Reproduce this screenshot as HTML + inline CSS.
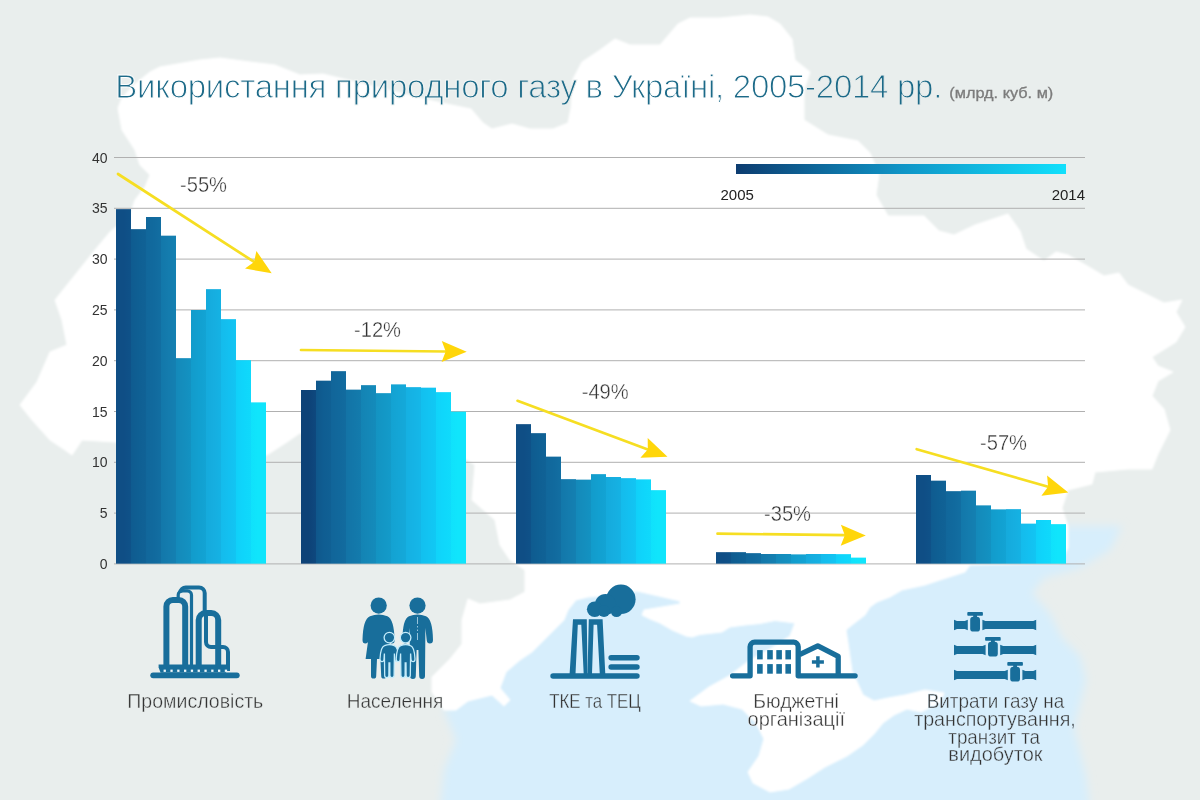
<!DOCTYPE html>
<html lang="uk"><head><meta charset="utf-8"><title>Використання природного газу в Україні</title>
<style>
html,body{margin:0;padding:0;background:#e9eeed;}
body{width:1200px;height:800px;overflow:hidden;font-family:"Liberation Sans",sans-serif;}
svg{display:block;font-family:"Liberation Sans",sans-serif;}
</style></head><body>
<svg width="1200" height="800" viewBox="0 0 1200 800">
<defs>
<linearGradient id="lg" x1="0" x2="1" y1="0" y2="0"><stop offset="0" stop-color="#0d3c70"/><stop offset="0.5" stop-color="#0f94c6"/><stop offset="1" stop-color="#12e0fc"/></linearGradient>
<filter id="soft2" x="-5%" y="-5%" width="110%" height="115%"><feGaussianBlur stdDeviation="4"/></filter>
<filter id="soft" x="-5%" y="-5%" width="110%" height="115%"><feGaussianBlur stdDeviation="1.1"/></filter>
</defs>
<rect width="1200" height="800" fill="#e9eeed"/>
<polygon fill="#d7eefc" points="444,710 456,740 444,770 441,800 441,840 1089,840 1089,800 1086,776 1080,752 1074,728 1080,704 1086,680 1080,656 1062,638 1050,614 1032,593 1044,578 1080,568 1110,550 1122,526 1060,526 1000,540 700,560 560,590 500,640" filter="url(#soft2)"/>
<polygon fill="#ffffff" stroke="#ffffff" stroke-width="1" stroke-linejoin="round" points="118,108 122,98 135,84 150,72 160,67 200,60 220,58 250,62 275,65 300,75 323,74 380,88 420,98 442,103 471,109 483,123 492,129 512,124 530,129 553,129 568,123 571,108 573,79 582,62 600,50 615,39 630,45 660,45 678,24 690,18 720,18 750,15 768,17 780,24 792,39 795,60 810,72 804,90 804,120 828,135 858,141 870,153 879,174 876,195 888,216 924,216 939,231 954,235 975,225 1008,214 1020,231 1026,249 1044,261 1056,252 1068,255 1089,267 1104,276 1119,273 1128,285 1146,294 1164,303 1182,300 1176,312 1185,327 1176,342 1152,357 1158,366 1173,372 1158,381 1152,396 1164,409 1170,430 1158,454 1152,469 1128,469 1095,472 1092,484 1068,490 1062,508 1068,526 1068,548 1060,563 1010,564 970,565 965,572 940,580 925,585 902,590 890,597 877,602 870,607 865,615 852,625 846,630 848,643 850,657 852,671 858,684 863,695 874,701 888,698 905,695 925,690 944,693 940,703 921,712 907,709 894,715 883,723 874,734 863,745 847,756 825,767 808,778 789,789 770,792 753,783 748,772 759,756 764,739 756,723 742,709 723,704 701,706 690,701 709,687 729,676 750,660 770,649 790,636 795,623 775,620.5 760,623.5 745,625 730,627 722,632 700,634.5 692,637 686,636 672,630 660,623 650,619 642,615 644,610 680,604 680,601 637,591 618,593 600,596 588,597 576,600 568,610 564,620 556,628 544,640 532,652 520,660 506,672 500,688 510,700 504,706 492,695 468,701 456,710 444,710 432,692 432,677 450,659 462,644 462,620 468,599 480,604 510,600 525,592 525,570 510,560 500,545 495,520 472,500 475,465 466,459 300,433 287,442 267,455 115,442 82,440 72,455 65,450 50,440 32,420 20,405 37,382 50,352 67,345 62,320 55,300 75,275 95,250 110,232 130,215 135,200 145,187 150,175 140,165 135,150 122,130" filter="url(#soft)"/>

<g stroke="#b0b0b0" stroke-width="1">
<line x1="114" x2="1085" y1="157.5" y2="157.5"/>
<line x1="114" x2="1085" y1="208.3" y2="208.3"/>
<line x1="114" x2="1085" y1="259.1" y2="259.1"/>
<line x1="114" x2="1085" y1="309.9" y2="309.9"/>
<line x1="114" x2="1085" y1="360.7" y2="360.7"/>
<line x1="114" x2="1085" y1="411.5" y2="411.5"/>
<line x1="114" x2="1085" y1="462.3" y2="462.3"/>
<line x1="114" x2="1085" y1="513.1" y2="513.1"/>
<line x1="114" x2="1085" y1="563.9" y2="563.9"/>
</g>
<g font-size="14" fill="#333" text-anchor="end">
<text x="107.5" y="162.5">40</text>
<text x="107.5" y="213.3">35</text>
<text x="107.5" y="264.1">30</text>
<text x="107.5" y="314.9">25</text>
<text x="107.5" y="365.7">20</text>
<text x="107.5" y="416.5">15</text>
<text x="107.5" y="467.3">10</text>
<text x="107.5" y="518.1">5</text>
<text x="107.5" y="568.9">0</text>
</g>
<defs><linearGradient id="g0" gradientUnits="userSpaceOnUse" x1="116" x2="266" y1="0" y2="0"><stop offset="0.050" stop-color="#0f4e85"/><stop offset="0.150" stop-color="#0f5f93"/><stop offset="0.250" stop-color="#116a9e"/><stop offset="0.350" stop-color="#147cae"/><stop offset="0.450" stop-color="#148ebd"/><stop offset="0.550" stop-color="#12a0d0"/><stop offset="0.650" stop-color="#16aee0"/><stop offset="0.750" stop-color="#13c0f0"/><stop offset="0.850" stop-color="#0fd5fb"/><stop offset="0.950" stop-color="#10e5fc"/></linearGradient><linearGradient id="g1" gradientUnits="userSpaceOnUse" x1="301" x2="466" y1="0" y2="0"><stop offset="0.045" stop-color="#0d4277"/><stop offset="0.136" stop-color="#0f5d92"/><stop offset="0.227" stop-color="#11689c"/><stop offset="0.318" stop-color="#1377a9"/><stop offset="0.409" stop-color="#1487b7"/><stop offset="0.500" stop-color="#1397c6"/><stop offset="0.591" stop-color="#14a6d6"/><stop offset="0.682" stop-color="#15b3e5"/><stop offset="0.773" stop-color="#12c4f2"/><stop offset="0.864" stop-color="#0fd7fb"/><stop offset="0.955" stop-color="#10e5fc"/></linearGradient><linearGradient id="g2" gradientUnits="userSpaceOnUse" x1="516" x2="666" y1="0" y2="0"><stop offset="0.050" stop-color="#0f4e85"/><stop offset="0.150" stop-color="#0f5f93"/><stop offset="0.250" stop-color="#116a9e"/><stop offset="0.350" stop-color="#147cae"/><stop offset="0.450" stop-color="#148ebd"/><stop offset="0.550" stop-color="#12a0d0"/><stop offset="0.650" stop-color="#16aee0"/><stop offset="0.750" stop-color="#13c0f0"/><stop offset="0.850" stop-color="#0fd5fb"/><stop offset="0.950" stop-color="#10e5fc"/></linearGradient><linearGradient id="g3" gradientUnits="userSpaceOnUse" x1="716" x2="866" y1="0" y2="0"><stop offset="0.050" stop-color="#0f4e85"/><stop offset="0.150" stop-color="#0f5f93"/><stop offset="0.250" stop-color="#116a9e"/><stop offset="0.350" stop-color="#147cae"/><stop offset="0.450" stop-color="#148ebd"/><stop offset="0.550" stop-color="#12a0d0"/><stop offset="0.650" stop-color="#16aee0"/><stop offset="0.750" stop-color="#13c0f0"/><stop offset="0.850" stop-color="#0fd5fb"/><stop offset="0.950" stop-color="#10e5fc"/></linearGradient><linearGradient id="g4" gradientUnits="userSpaceOnUse" x1="916" x2="1066" y1="0" y2="0"><stop offset="0.050" stop-color="#0f4e85"/><stop offset="0.150" stop-color="#0f5f93"/><stop offset="0.250" stop-color="#116a9e"/><stop offset="0.350" stop-color="#147cae"/><stop offset="0.450" stop-color="#148ebd"/><stop offset="0.550" stop-color="#12a0d0"/><stop offset="0.650" stop-color="#16aee0"/><stop offset="0.750" stop-color="#13c0f0"/><stop offset="0.850" stop-color="#0fd5fb"/><stop offset="0.950" stop-color="#10e5fc"/></linearGradient></defs>
<path d="M116,563.6 V209.2 H131 V229.2 H146 V217.0 H161 V235.8 H176 V358.3 H191 V310.0 H206 V289.2 H221 V319.2 H236 V360.3 H251 V402.5 H266 V563.6 Z" fill="url(#g0)"/>
<rect x="116" y="209.2" width="15" height="354.4" fill="#0f4e85" fill-opacity="0.5"/>
<rect x="131" y="229.2" width="15" height="334.4" fill="#0f5f93" fill-opacity="0.5"/>
<rect x="146" y="217.0" width="15" height="346.6" fill="#116a9e" fill-opacity="0.5"/>
<rect x="161" y="235.8" width="15" height="327.8" fill="#147cae" fill-opacity="0.5"/>
<rect x="176" y="358.3" width="15" height="205.3" fill="#148ebd" fill-opacity="0.5"/>
<rect x="191" y="310.0" width="15" height="253.6" fill="#12a0d0" fill-opacity="0.5"/>
<rect x="206" y="289.2" width="15" height="274.4" fill="#16aee0" fill-opacity="0.5"/>
<rect x="221" y="319.2" width="15" height="244.4" fill="#13c0f0" fill-opacity="0.5"/>
<rect x="236" y="360.3" width="15" height="203.3" fill="#0fd5fb" fill-opacity="0.5"/>
<rect x="251" y="402.5" width="15" height="161.1" fill="#10e5fc" fill-opacity="0.5"/>
<path d="M301,563.6 V390.0 H316 V380.8 H331 V371.3 H346 V389.7 H361 V385.3 H376 V393.3 H391 V384.5 H406 V387.2 H421 V387.8 H436 V392.3 H451 V411.7 H466 V563.6 Z" fill="url(#g1)"/>
<rect x="301" y="390.0" width="15" height="173.6" fill="#0d4277" fill-opacity="0.5"/>
<rect x="316" y="380.8" width="15" height="182.8" fill="#0f5d92" fill-opacity="0.5"/>
<rect x="331" y="371.3" width="15" height="192.3" fill="#11689c" fill-opacity="0.5"/>
<rect x="346" y="389.7" width="15" height="173.9" fill="#1377a9" fill-opacity="0.5"/>
<rect x="361" y="385.3" width="15" height="178.3" fill="#1487b7" fill-opacity="0.5"/>
<rect x="376" y="393.3" width="15" height="170.3" fill="#1397c6" fill-opacity="0.5"/>
<rect x="391" y="384.5" width="15" height="179.1" fill="#14a6d6" fill-opacity="0.5"/>
<rect x="406" y="387.2" width="15" height="176.4" fill="#15b3e5" fill-opacity="0.5"/>
<rect x="421" y="387.8" width="15" height="175.8" fill="#12c4f2" fill-opacity="0.5"/>
<rect x="436" y="392.3" width="15" height="171.3" fill="#0fd7fb" fill-opacity="0.5"/>
<rect x="451" y="411.7" width="15" height="151.9" fill="#10e5fc" fill-opacity="0.5"/>
<path d="M516,563.6 V424.2 H531 V433.3 H546 V456.7 H561 V479.2 H576 V479.7 H591 V474.2 H606 V477.0 H621 V478.3 H636 V479.5 H651 V490.3 H666 V563.6 Z" fill="url(#g2)"/>
<rect x="516" y="424.2" width="15" height="139.4" fill="#0f4e85" fill-opacity="0.5"/>
<rect x="531" y="433.3" width="15" height="130.3" fill="#0f5f93" fill-opacity="0.5"/>
<rect x="546" y="456.7" width="15" height="106.9" fill="#116a9e" fill-opacity="0.5"/>
<rect x="561" y="479.2" width="15" height="84.4" fill="#147cae" fill-opacity="0.5"/>
<rect x="576" y="479.7" width="15" height="83.9" fill="#148ebd" fill-opacity="0.5"/>
<rect x="591" y="474.2" width="15" height="89.4" fill="#12a0d0" fill-opacity="0.5"/>
<rect x="606" y="477.0" width="15" height="86.6" fill="#16aee0" fill-opacity="0.5"/>
<rect x="621" y="478.3" width="15" height="85.3" fill="#13c0f0" fill-opacity="0.5"/>
<rect x="636" y="479.5" width="15" height="84.1" fill="#0fd5fb" fill-opacity="0.5"/>
<rect x="651" y="490.3" width="15" height="73.3" fill="#10e5fc" fill-opacity="0.5"/>
<path d="M716,563.6 V552.3 H731 V552.3 H746 V553.2 H761 V554.0 H776 V554.0 H791 V554.5 H806 V554.0 H821 V554.0 H836 V554.2 H851 V557.7 H866 V563.6 Z" fill="url(#g3)"/>
<rect x="716" y="552.3" width="15" height="11.3" fill="#0f4e85" fill-opacity="0.5"/>
<rect x="731" y="552.3" width="15" height="11.3" fill="#0f5f93" fill-opacity="0.5"/>
<rect x="746" y="553.2" width="15" height="10.4" fill="#116a9e" fill-opacity="0.5"/>
<rect x="761" y="554.0" width="15" height="9.6" fill="#147cae" fill-opacity="0.5"/>
<rect x="776" y="554.0" width="15" height="9.6" fill="#148ebd" fill-opacity="0.5"/>
<rect x="791" y="554.5" width="15" height="9.1" fill="#12a0d0" fill-opacity="0.5"/>
<rect x="806" y="554.0" width="15" height="9.6" fill="#16aee0" fill-opacity="0.5"/>
<rect x="821" y="554.0" width="15" height="9.6" fill="#13c0f0" fill-opacity="0.5"/>
<rect x="836" y="554.2" width="15" height="9.4" fill="#0fd5fb" fill-opacity="0.5"/>
<rect x="851" y="557.7" width="15" height="5.9" fill="#10e5fc" fill-opacity="0.5"/>
<path d="M916,563.6 V475.0 H931 V480.8 H946 V491.3 H961 V490.8 H976 V505.5 H991 V509.5 H1006 V509.2 H1021 V523.7 H1036 V520.0 H1051 V524.2 H1066 V563.6 Z" fill="url(#g4)"/>
<rect x="916" y="475.0" width="15" height="88.6" fill="#0f4e85" fill-opacity="0.5"/>
<rect x="931" y="480.8" width="15" height="82.8" fill="#0f5f93" fill-opacity="0.5"/>
<rect x="946" y="491.3" width="15" height="72.3" fill="#116a9e" fill-opacity="0.5"/>
<rect x="961" y="490.8" width="15" height="72.8" fill="#147cae" fill-opacity="0.5"/>
<rect x="976" y="505.5" width="15" height="58.1" fill="#148ebd" fill-opacity="0.5"/>
<rect x="991" y="509.5" width="15" height="54.1" fill="#12a0d0" fill-opacity="0.5"/>
<rect x="1006" y="509.2" width="15" height="54.4" fill="#16aee0" fill-opacity="0.5"/>
<rect x="1021" y="523.7" width="15" height="39.9" fill="#13c0f0" fill-opacity="0.5"/>
<rect x="1036" y="520.0" width="15" height="43.6" fill="#0fd5fb" fill-opacity="0.5"/>
<rect x="1051" y="524.2" width="15" height="39.4" fill="#10e5fc" fill-opacity="0.5"/>
<rect x="736" y="164" width="330" height="10" fill="url(#lg)"/>
<g font-size="15" fill="#222"><text x="720.5" y="200">2005</text><text x="1085" y="200" text-anchor="end">2014</text></g>
<line x1="118.0" y1="174.0" x2="254.1" y2="261.9" stroke="#f6de22" stroke-width="2.7" stroke-linecap="round"/><polygon fill="#ffd60a" points="271.7,273.3 245.0,268.6 254.1,261.9 256.4,250.9"/>
<line x1="301.0" y1="350.0" x2="445.7" y2="351.5" stroke="#f6de22" stroke-width="2.7" stroke-linecap="round"/><polygon fill="#ffd60a" points="466.7,351.7 441.6,361.9 445.7,351.5 441.8,340.9"/>
<line x1="517.5" y1="400.8" x2="647.8" y2="449.4" stroke="#f6de22" stroke-width="2.7" stroke-linecap="round"/><polygon fill="#ffd60a" points="667.5,456.7 640.4,457.8 647.8,449.4 647.7,438.1"/>
<line x1="717.5" y1="533.7" x2="844.8" y2="535.2" stroke="#f6de22" stroke-width="2.7" stroke-linecap="round"/><polygon fill="#ffd60a" points="865.8,535.5 840.7,545.7 844.8,535.2 840.9,524.7"/>
<line x1="916.7" y1="449.2" x2="1048.1" y2="486.7" stroke="#f6de22" stroke-width="2.7" stroke-linecap="round"/><polygon fill="#ffd60a" points="1068.3,492.5 1041.4,495.7 1048.1,486.7 1047.1,475.5"/>
<g font-size="22" fill="#333333" stroke="#ffffff" stroke-width="0.4">
<text x="180" y="191.7" textLength="47" lengthAdjust="spacingAndGlyphs">-55%</text>
<text x="354" y="336.7" textLength="47" lengthAdjust="spacingAndGlyphs">-12%</text>
<text x="581.7" y="399.2" textLength="47" lengthAdjust="spacingAndGlyphs">-49%</text>
<text x="764" y="520.5" textLength="47" lengthAdjust="spacingAndGlyphs">-35%</text>
<text x="980" y="449.7" textLength="47" lengthAdjust="spacingAndGlyphs">-57%</text>
</g>
<text x="115.3" y="98.3" font-size="33" fill="#1c6a88" stroke-width="1.0" stroke="#ffffff" textLength="827" lengthAdjust="spacing">Використання <tspan stroke="#f3f6f5">природного</tspan> <tspan stroke="#e9eeed">газу</tspan> в Україні, 2005<tspan stroke="#e9eeed">-2014 рр.</tspan></text>
<text x="949.3" y="98.3" font-size="14" fill="#7c7c7c" stroke="#7c7c7c" stroke-width="0.3" textLength="104" lengthAdjust="spacingAndGlyphs">(млрд. куб. м)</text>
<g font-size="20.8" fill="#333333" stroke-width="0.4">
<text x="127.3" y="708.3" stroke="#e9eeed" textLength="136.0" lengthAdjust="spacingAndGlyphs">Промисловість</text>
<text x="346.7" y="708.3" stroke="#e9eeed" textLength="96.6" lengthAdjust="spacingAndGlyphs">Населення</text>
<text x="549.2" y="707.5" stroke="#d7eefc" textLength="91.6" lengthAdjust="spacingAndGlyphs">ТКЕ та ТЕЦ</text>
<text x="753.3" y="707.5" stroke="#ffffff" textLength="85.5" lengthAdjust="spacingAndGlyphs">Бюджетні</text>
<text x="747.6" y="726.2" stroke="#ffffff" textLength="97.4" lengthAdjust="spacingAndGlyphs">організації</text>
<text x="926.7" y="707.5" stroke="#d7eefc" textLength="137.5" lengthAdjust="spacingAndGlyphs">Витрати газу на</text>
<text x="914.2" y="725.8" stroke="#d7eefc" textLength="161.6" lengthAdjust="spacingAndGlyphs">транспортування,</text>
<text x="948.3" y="744.2" stroke="#d7eefc" textLength="91.7" lengthAdjust="spacingAndGlyphs">транзит та</text>
<text x="948.3" y="761.0" stroke="#d7eefc" textLength="94.2" lengthAdjust="spacingAndGlyphs">видобуток</text>
</g>
<g id="ic1" fill="none" stroke="#186e9b" stroke-linecap="round" stroke-linejoin="round">
<rect x="150.3" y="672.4" width="89.4" height="5.8" rx="2.9" fill="#186e9b" stroke="none"/>
<path d="M158.6,664.4 H227.3 V667.4 L226,672.8 H160.6 L158.6,667.4 Z" fill="#186e9b" stroke="none"/>
<path d="M166.4,665 V606.5 a6.5,6.5 0 0 1 6.5,-6.5 h5.8 a6.5,6.5 0 0 1 6.5,6.5 V665" stroke-width="6" stroke-linecap="butt"/>
<path d="M198.7,665 V620 a7,7 0 0 1 7,-7 h5.5 a7,7 0 0 1 7,7 V665" stroke-width="6" stroke-linecap="butt"/>
<path d="M178.2,598 V595 a4.2,4.2 0 0 1 4.2,-4.2 h4.9 a4.2,4.2 0 0 1 4.2,4.2 V665" stroke-width="3.2" stroke-linecap="butt"/>
<path d="M180.2,592.5 a5.6,5.6 0 0 1 5.6,-5.1 H199 a5.7,5.7 0 0 1 5.7,5.7 V611" stroke-width="4" stroke-linecap="butt"/>
<path d="M206,616 V642 a5,5 0 0 0 5,5 H223 a5,5 0 0 1 5,5 V671" stroke-width="4" stroke-linecap="butt"/>
<rect x="163.6" y="669.6" width="2.3" height="2.3" fill="#eef5f9" stroke="none"/>
<rect x="170.4" y="669.6" width="2.3" height="2.3" fill="#eef5f9" stroke="none"/>
<rect x="177.2" y="669.6" width="2.3" height="2.3" fill="#eef5f9" stroke="none"/>
<rect x="184.0" y="669.6" width="2.3" height="2.3" fill="#eef5f9" stroke="none"/>
<rect x="190.8" y="669.6" width="2.3" height="2.3" fill="#eef5f9" stroke="none"/>
<rect x="197.6" y="669.6" width="2.3" height="2.3" fill="#eef5f9" stroke="none"/>
<rect x="204.4" y="669.6" width="2.3" height="2.3" fill="#eef5f9" stroke="none"/>
<rect x="211.2" y="669.6" width="2.3" height="2.3" fill="#eef5f9" stroke="none"/>
<rect x="218.0" y="669.6" width="2.3" height="2.3" fill="#eef5f9" stroke="none"/>
<rect x="224.8" y="669.6" width="2.3" height="2.3" fill="#eef5f9" stroke="none"/>
</g>
<g id="ic2" fill="#186e9b">
<circle cx="378.7" cy="605.6" r="8.1"/><circle cx="417.5" cy="605.6" r="8.1"/>
<path d="M370,616.2 Q363,619 362.5,640 Q362.5,643.5 365.4,643.5 Q368,643.5 368.4,640 L369.6,630 L365.6,659 H371 V676 a2.6,2.6 0 0 0 5.2,0 L377,659 h3.4 L381.2,676 a2.6,2.6 0 0 0 5.2,0 V659 H391.8 L387.8,630 L389,640 Q389.4,643.5 392,643.5 Q394.8,643.5 394.6,640 Q394,619 387.4,616.2 Q378.7,612.6 370,616.2 Z"/>
<path d="M409,616.2 Q402.5,619 402.5,640 Q402.5,643.5 405.3,643.5 Q408,643.5 408.3,640 L409.6,628 L410,676 a2.9,2.9 0 0 0 5.8,0 L416.6,650 h1.8 L419.2,676 a2.9,2.9 0 0 0 5.8,0 L425.4,628 L426.7,640 Q427,643.5 429.8,643.5 Q433,643.5 433,640 Q432.6,619 426,616.2 Q417.5,612.6 409,616.2 Z"/>
<path d="M417.5,617 V640" stroke="#b9d9ea" stroke-width="0.8" stroke-dasharray="7 2 1.5 2 1.5 2" fill="none"/>
<g stroke="#c4ecfb" stroke-width="1.3"><circle cx="389.4" cy="637.6" r="5.3"/><path d="M384.5,645.6 Q380.5,647 380.0,659 Q380.0,661.6 382.0,661.6 Q383.8,661.6 384.0,659.5 L384.4,653.5 L384.7,675.5 a2.1,2.1 0 0 0 4.2,0 L389.0,663 h0.8 L389.9,675.5 a2.1,2.1 0 0 0 4.2,0 L394.4,653.5 L394.8,659.5 Q395.0,661.6 397.0,661.6 Q398.8,661.6 398.8,659 Q398.3,647 394.3,645.6 Q389.4,643.6 384.5,645.6 Z"/></g>
<g stroke="#c4ecfb" stroke-width="1.3"><circle cx="405.6" cy="637.6" r="5.3"/><path d="M400.7,645.6 Q396.7,647 396.2,659 Q396.2,661.6 398.2,661.6 Q400.0,661.6 400.2,659.5 L400.6,653.5 L400.9,675.5 a2.1,2.1 0 0 0 4.2,0 L405.2,663 h0.8 L406.1,675.5 a2.1,2.1 0 0 0 4.2,0 L410.6,653.5 L411.0,659.5 Q411.2,661.6 413.2,661.6 Q415.0,661.6 415.0,659 Q414.5,647 410.5,645.6 Q405.6,643.6 400.7,645.6 Z"/></g>
</g>
<g id="ic3" fill="#186e9b">
<rect x="550.3" y="673.2" width="89.4" height="5.6" rx="2.8"/>
<rect x="608.4" y="655" width="31.3" height="5.5" rx="2.75"/>
<rect x="608.4" y="664.2" width="31.3" height="5.5" rx="2.75"/>
<path fill-rule="evenodd" d="M573,619.2 H586.8 L587.5,674 H569.6 Z M577.8,624.7 H581.3 L583.7,674 H575.5 Z"/>
<path fill-rule="evenodd" d="M588.8,619.2 H602.6 L605.3,674 H587.5 Z M593.6,624.7 H597.1 L599.8,674 H592 Z"/>
<circle cx="620.9" cy="599.3" r="14.7"/><circle cx="605.5" cy="604.6" r="10.6"/><circle cx="594.7" cy="609.2" r="7.8"/><circle cx="616.5" cy="611.5" r="5.6"/><circle cx="604" cy="611" r="6"/>
</g>
<g id="ic4" fill="none" stroke="#186e9b" stroke-width="5.3" stroke-linecap="round" stroke-linejoin="round">
<path d="M732.6,675.8 H750.1 V646.7 a4.5,4.5 0 0 1 4.5,-4.5 H793.7 a4.5,4.5 0 0 1 4.5,4.5 V675.8 H855.1"/>
<path d="M799.5,654.6 L817.8,645.8 L838.2,656.4 V675.8" stroke-linecap="butt"/>
<rect x="757.1" y="650.1" width="5.6" height="9.3" fill="#186e9b" stroke="none"/>
<rect x="757.1" y="664.1" width="5.6" height="9.6" fill="#186e9b" stroke="none"/>
<rect x="767.2" y="650.1" width="5.6" height="9.3" fill="#186e9b" stroke="none"/>
<rect x="767.2" y="664.1" width="5.6" height="9.6" fill="#186e9b" stroke="none"/>
<rect x="776.3" y="650.1" width="5.6" height="9.3" fill="#186e9b" stroke="none"/>
<rect x="776.3" y="664.1" width="5.6" height="9.6" fill="#186e9b" stroke="none"/>
<rect x="785.4" y="650.1" width="5.6" height="9.3" fill="#186e9b" stroke="none"/>
<rect x="785.4" y="664.1" width="5.6" height="9.6" fill="#186e9b" stroke="none"/>
<path d="M811.9,661.9 H823.9 M817.9,656.2 V667.6" stroke-width="3.5" stroke-linecap="butt"/>
</g>
<g id="ic5" fill="#186e9b">
<path d="M954.0,619.8 L957.0,620.9 H964.8 L967.8,619.8 V630.2 L964.8,629.1 H957.0 L954.0,630.2 Z"/>
<path d="M982.4,619.8 L985.4,620.9 H1033.2 L1036.2,619.8 V630.2 L1033.2,629.1 H985.4 L982.4,630.2 Z"/>
<rect x="970.2" y="616.8" width="9.8" height="14.8" rx="3.2"/>
<rect x="973.2" y="614" width="3.8" height="4"/>
<rect x="967.3" y="612.1" width="15.6" height="3.6" rx="0.8"/>
<path d="M954.0,644.8 L957.0,645.9 H982.6 L985.6,644.8 V655.2 L982.6,654.1 H957.0 L954.0,655.2 Z"/>
<path d="M1000.2,644.8 L1003.2,645.9 H1033.2 L1036.2,644.8 V655.2 L1033.2,654.1 H1003.2 L1000.2,655.2 Z"/>
<rect x="988.0" y="641.8" width="9.8" height="14.8" rx="3.2"/>
<rect x="991.0" y="639" width="3.8" height="4"/>
<rect x="985.1" y="637.1" width="15.6" height="3.6" rx="0.8"/>
<path d="M954.0,669.8 L957.0,670.9 H1004.8 L1007.8,669.8 V680.2 L1004.8,679.1 H957.0 L954.0,680.2 Z"/>
<path d="M1022.4,669.8 L1025.4,670.9 H1033.2 L1036.2,669.8 V680.2 L1033.2,679.1 H1025.4 L1022.4,680.2 Z"/>
<rect x="1010.2" y="666.8" width="9.8" height="14.8" rx="3.2"/>
<rect x="1013.2" y="664" width="3.8" height="4"/>
<rect x="1007.3" y="662.1" width="15.6" height="3.6" rx="0.8"/>
</g>
</svg></body></html>
